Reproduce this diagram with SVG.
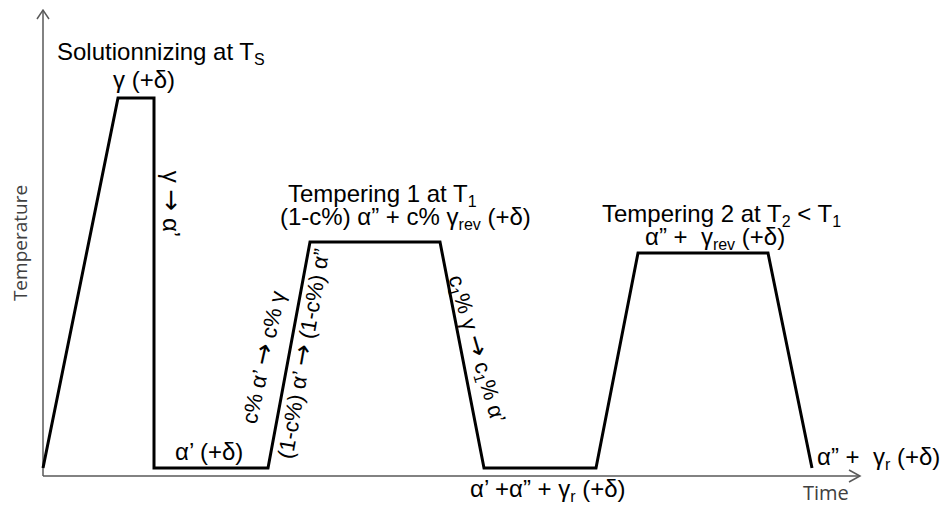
<svg xmlns="http://www.w3.org/2000/svg" width="946" height="505" viewBox="0 0 946 505">
<style>
.t{font-family:"Liberation Sans",Arial,sans-serif;font-size:24px;fill:#000;white-space:pre}
.r{font-family:"Liberation Sans",Arial,sans-serif;font-size:22px;fill:#000;white-space:pre}
.ar{font-family:"DejaVu Sans",sans-serif;font-size:26px}
.ax{fill:none;stroke:#595959;stroke-width:1.5}
.prof{fill:none;stroke:#000;stroke-width:3;stroke-linejoin:miter}
.lab{font-family:"Open Sans","DejaVu Sans",sans-serif;font-size:19px;fill:#404040}
</style>
<rect width="946" height="505" fill="#fff"/>
<g id="axes">
<path class="ax" d="M43,476 L860,476 M43,476 L43,10"/>
<path class="ax" d="M37,19 L43,10 L49,19 M849,470 L860,476 L849,482"/>
<text class="lab" transform="translate(27,243) rotate(-90)" text-anchor="middle">Temperature</text>
<text class="lab" x="803" y="500" style="font-size:20px">Time</text>
</g>
<g id="connectors">
<path class="prof" d="M43,468 L118,98 L154,98 L154,468 L268,468 L310,242 L440,242 L484,468 L596,468 L638,253 L768,253 L812,468"/>
</g>
<g id="solutionizing">
<text class="t" x="57" y="60">Solutionnizing at T<tspan font-size="16" dy="5">S</tspan></text>
<text class="t" x="113" y="88">γ (+δ)</text>
<text class="t" transform="translate(163,204) rotate(90)" text-anchor="middle">γ <tspan class="ar">→</tspan> α’</text>
</g>
<g id="quench">
<text class="t" x="175" y="460">α’ (+δ)</text>
<text class="r" transform="translate(271,359) rotate(-77.5)" text-anchor="middle">c% α’ <tspan class="ar">→</tspan> c% γ</text>
<text class="r" transform="translate(311,355) rotate(-80)" text-anchor="middle">(1-c%) α’ <tspan class="ar">→</tspan> (1-c%) α”</text>
</g>
<g id="tempering1">
<text class="t" x="288" y="202">Tempering 1 at T<tspan font-size="16" dy="5">1</tspan></text>
<text class="t" x="280" y="225">(1-c%) α” + c% γ<tspan font-size="16" dy="5">rev</tspan><tspan dy="-5"> (+δ)</tspan></text>
<text class="r" transform="translate(470,351) rotate(73.5)" text-anchor="middle">c<tspan font-size="15" dy="4">1</tspan><tspan dy="-4">% γ </tspan><tspan class="ar">→</tspan> c<tspan font-size="15" dy="4">1</tspan><tspan dy="-4">% α’</tspan></text>
</g>
<g id="intermediate">
<text class="t" x="470" y="497">α’ +α” + γ<tspan font-size="16" dy="5">r</tspan><tspan dy="-5"> (+δ)</tspan></text>
</g>
<g id="tempering2">
<text class="t" x="602" y="222">Tempering 2 at T<tspan font-size="16" dy="5">2</tspan><tspan dy="-5"> &lt; T</tspan><tspan font-size="16" dy="5">1</tspan></text>
<text class="t" x="645" y="245">α” +  γ<tspan font-size="16" dy="5">rev</tspan><tspan dy="-5"> (+δ)</tspan></text>
</g>
<g id="final">
<text class="t" x="817" y="465">α” +  γ<tspan font-size="16" dy="5">r</tspan><tspan dy="-5"> (+δ)</tspan></text>
</g>
</svg>
